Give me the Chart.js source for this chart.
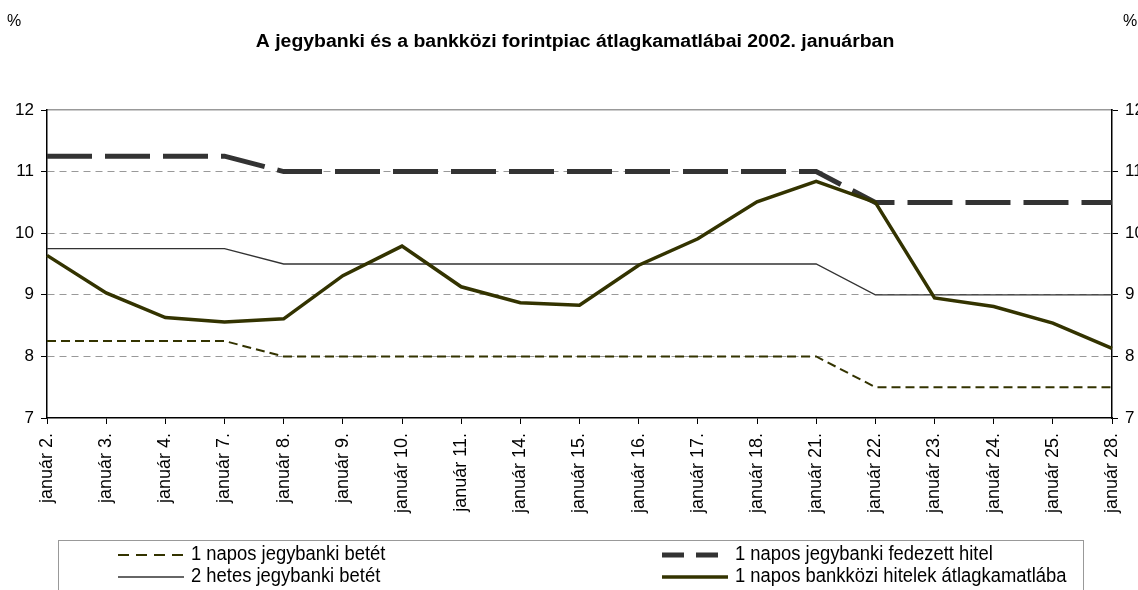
<!DOCTYPE html>
<html>
<head>
<meta charset="utf-8">
<script src="https://cdn.jsdelivr.net/npm/chart.js@4/dist/chart.umd.min.js"></script>
<style>
  html, body { margin: 0; padding: 0; background: #fff; overflow: hidden; }
  .chart-container { width: 1138px; height: 590px; overflow: hidden; position: relative; }
  canvas { display: block; }
</style>
</head>
<body>
<div class="chart-container">
  <canvas id="chart" width="1160" height="590" style="width:1160px;height:590px"></canvas>
</div>
<script>
// napok (x tengely)
const days = ["január 2.", "január 3.", "január 4.", "január 7.", "január 8.", "január 9.",
  "január 10.", "január 11.", "január 14.", "január 15.", "január 16.", "január 17.",
  "január 18.", "január 21.", "január 22.", "január 23.", "január 24.", "január 25.", "január 28."]

// kamatok, %
const betet1nap = [8.25, 8.25, 8.25, 8.25, 8, 8, 8, 8, 8, 8, 8, 8, 8, 8, 7.5, 7.5, 7.5, 7.5, 7.5]
const fedezettHitel = [11.25, 11.25, 11.25, 11.25, 11, 11, 11, 11, 11, 11, 11, 11, 11, 11, 10.5, 10.5, 10.5, 10.5, 10.5]
const betet2het = [9.75, 9.75, 9.75, 9.75, 9.5, 9.5, 9.5, 9.5, 9.5, 9.5, 9.5, 9.5, 9.5, 9.5, 9, 9, 9, 9, 9]
const bankkozi = [9.64, 9.03, 8.63, 8.56, 8.61, 9.31, 9.79, 9.13, 8.87, 8.83, 9.48, 9.91, 10.51, 10.84, 10.5, 8.95, 8.81, 8.54, 8.13]

const yTicks = [7, 8, 9, 10, 11, 12]

const labels = {
  betet1: "1 napos jegybanki betét",
  hitel: "1 napos jegybanki fedezett hitel",
  betet2: "2 hetes jegybanki betét",
  bankkozi: "1 napos bankközi hitelek átlagkamatlába"
}

const FONT = "'Liberation Sans', Arial, sans-serif"

// szöveg vízszintesen nyújtva/szűkítve
function stretchText(ctx, text, x, y, sx) {
  ctx.save()
  ctx.translate(x, y)
  ctx.scale(sx, 1)
  ctx.fillText(text, 0, 0)
  ctx.restore()
}

// felirat, % jelek és a keretes jelmagyarázat
const decorPlugin = {
  id: "decor",
  afterDraw(chart) {
    const ctx = chart.ctx
    ctx.save()
    ctx.fillStyle = "#000"
    ctx.textBaseline = "middle"
    ctx.font = "bold 18px " + FONT
    ctx.textAlign = "center"
    stretchText(ctx, "A jegybanki és a bankközi forintpiac átlagkamatlábai 2002. januárban", 575, 42, 1.08)
    ctx.font = "16px " + FONT
    ctx.textAlign = "left"
    ctx.fillText("%", 7, 22)
    ctx.fillText("%", 1123, 22)

    // keret
    ctx.strokeStyle = "#999"
    ctx.lineWidth = 1
    ctx.strokeRect(58.5, 540.5, 1025, 70)

    const items = [
      { ds: 3, x: 118, y: 554 },
      { ds: 1, x: 662, y: 554 },
      { ds: 2, x: 118, y: 576 },
      { ds: 0, x: 662, y: 576 }
    ]
    ctx.font = "20px " + FONT
    items.forEach(it => {
      const d = chart.data.datasets[it.ds]
      ctx.beginPath()
      ctx.setLineDash(d.legendDash || [])
      ctx.strokeStyle = d.borderColor
      ctx.lineWidth = d.borderWidth
      ctx.moveTo(it.x, it.y + 1)
      ctx.lineTo(it.x + 66, it.y + 1)
      ctx.stroke()
      ctx.setLineDash([])
      stretchText(ctx, d.label, it.x + 73, it.y, 0.92)
    })
    ctx.restore()
  }
}

const config = {
  type: "line",
  data: {
    labels: days,
    datasets: [
      {
        label: labels.bankkozi,
        data: bankkozi,
        borderColor: "#333300",
        borderWidth: 3.5,
        order: 0
      },
      {
        label: labels.hitel,
        data: fedezettHitel,
        borderColor: "#333333",
        borderWidth: 5,
        borderDash: [45, 13],
        legendDash: [22, 12],
        order: 1
      },
      {
        label: labels.betet2,
        data: betet2het,
        borderColor: "#333333",
        borderWidth: 1.3,
        order: 2
      },
      {
        label: labels.betet1,
        data: betet1nap,
        borderColor: "#333300",
        borderWidth: 2,
        borderDash: [9, 5],
        legendDash: [11, 7],
        order: 3
      }
    ]
  },
  options: {
    responsive: false,
    animation: false,
    layout: { padding: { top: 110, left: 0, right: 0, bottom: 0 } },
    elements: {
      point: { radius: 0, hoverRadius: 0 },
      line: { tension: 0, fill: false, borderCapStyle: "butt", borderJoinStyle: "miter" }
    },
    plugins: {
      legend: { display: false },
      title: { display: false },
      tooltip: { enabled: false }
    },
    scales: {
      x: {
        position: "bottom",
        offset: false,
        grid: { drawOnChartArea: false, drawTicks: true, tickLength: 6, tickColor: "#000", tickWidth: 1 },
        border: { color: "#000", width: 1.5 },
        ticks: {
          autoSkip: false, minRotation: 90, maxRotation: 90, padding: 9,
          color: "#000", font: { family: FONT, size: 18 }
        },
        afterFit(scale) { scale.height = 172 }
      },
      xTop: {
        position: "top",
        offset: false,
        grid: { display: false },
        ticks: { display: false },
        border: { color: "#999", width: 1.5 },
        afterFit(scale) { scale.height = 0 }
      },
      y: {
        position: "left",
        min: 7,
        max: 12,
        afterBuildTicks(scale) { scale.ticks = yTicks.map(v => ({ value: v })) },
        grid: {
          color: c => (c.tick && c.tick.value > 7 && c.tick.value < 12) ? "#999" : "rgba(0,0,0,0)",
          lineWidth: 1,
          tickLength: 6,
          tickColor: "#000"
        },
        border: { color: "#000", width: 1.5, dash: [7, 5] },
        ticks: { color: "#000", padding: 7, font: { family: FONT, size: 17 } },
        afterFit(scale) { scale.width = 47 }
      },
      y2: {
        position: "right",
        min: 7,
        max: 12,
        afterBuildTicks(scale) { scale.ticks = yTicks.map(v => ({ value: v })) },
        grid: { drawOnChartArea: false, tickLength: 6, tickColor: "#000" },
        border: { color: "#000", width: 1.5 },
        ticks: { color: "#000", padding: 7, font: { family: FONT, size: 17 } },
        afterFit(scale) { scale.width = 48 }
      }
    }
  },
  plugins: [decorPlugin]
}

new Chart(document.getElementById("chart"), config)
</script>
</body>
</html>
